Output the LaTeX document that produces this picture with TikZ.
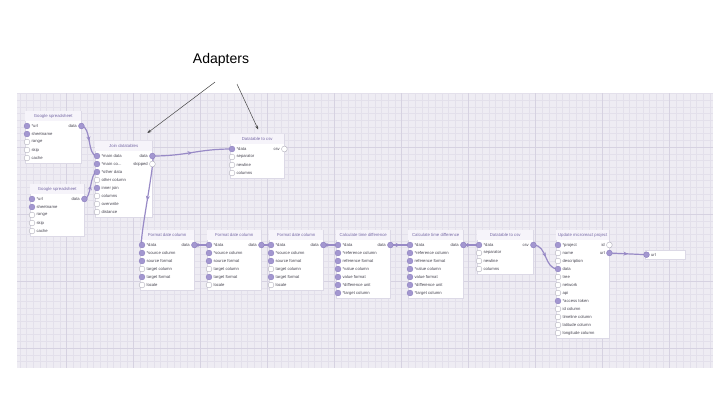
\documentclass[tikz,border=0pt]{standalone}
\usepackage{fontspec}
\setmainfont{Liberation Sans}
\usetikzlibrary{shadows}
\usetikzlibrary{positioning}
\usetikzlibrary{arrows.meta}
\usetikzlibrary{decorations.markings}
\usetikzlibrary{calc}

\definecolor{gridbg}{RGB}{238,236,243}
\definecolor{gridminor}{RGB}{227,224,235}
\definecolor{gridmajor}{RGB}{214,210,225}
\definecolor{boxline}{RGB}{220,217,230}
\definecolor{headfill}{RGB}{246,244,250}
\definecolor{titlecol}{RGB}{118,104,165}
\definecolor{labelcol}{RGB}{70,68,80}
\definecolor{wirecol}{RGB}{152,138,198}
\definecolor{portfill}{RGB}{163,151,208}
\definecolor{portedge}{RGB}{140,127,190}
\definecolor{holedge}{RGB}{175,173,185}
\definecolor{pointcol}{RGB}{70,70,70}

\pgfdeclarelayer{bg}
\pgfdeclarelayer{wires}
\pgfsetlayers{bg,wires,main}

\tikzset{
  flowbox/.style={draw=boxline, fill=white, line width=0.4pt, inner sep=0pt,
    drop shadow={opacity=0.12, shadow xshift=0.6pt, shadow yshift=-0.8pt}},
  boxtitle/.style={font=\fontsize{4.3}{5}\selectfont, text=titlecol, inner sep=0pt},
  porton/.style={circle, draw=portedge, fill=portfill, line width=0.4pt, minimum size=5.8pt, inner sep=0pt},
  portoff/.style={circle, draw=holedge, fill=white, line width=0.4pt, minimum size=5.8pt, inner sep=0pt},
  portlabel/.style={font=\fontsize{4.2}{5}\selectfont, text=labelcol, inner sep=1.3pt},
  wire/.style={draw=wirecol, line width=1.2pt, postaction={decorate},
    decoration={markings, mark=at position 0.5 with {\arrow{Stealth[length=4.5pt,width=4pt]}}}},
  pointer/.style={draw=pointcol, line width=0.5pt, -{Stealth[length=4pt,width=3pt]}},
}

% one block: name, left, top, width, height, title
\newcommand{\flowblock}[6]{%
  \begin{pgfonlayer}{bg}
    \node[flowbox, minimum width=#4, minimum height=#5, anchor=north west] (#1) at (#2,#3) {};
    \fill[headfill] ($(#1.north west)+(0.3,0.3)$) rectangle ($(#1.north east)+(-0.3,10)$);
  \end{pgfonlayer}
  \node[boxtitle] (#1-title) at ($(#1.north)+(0,5.2)$) {#6};
}
\newcommand{\inports}[2]{%
  \foreach \i/\txt/\st in {#2} {
    \pgfmathsetmacro\dy{15+8*(\i-1)}
    \node[\st] (#1-i\i) at ($(#1.north west)+(2,\dy)$) {};
    \node[portlabel, anchor=west] at (#1-i\i.east) {\txt};
  }%
}
\newcommand{\outports}[2]{%
  \foreach \i/\txt/\st in {#2} {
    \pgfmathsetmacro\dy{15+8*(\i-1)}
    \node[\st] (#1-o\i) at ($(#1.north east)+(0,\dy)$) {};
    \node[portlabel, anchor=east] at (#1-o\i.west) {\txt};
  }%
}
\newcommand{\cut}{.\kern0pt.\kern0pt.}

\begin{document}
\begin{tikzpicture}[x=1pt, y=-1pt]

\useasboundingbox (0,0) rectangle (720,405);

% canvas grid
\begin{pgfonlayer}{bg}
\fill[white] (0,0) rectangle (720,405);
\fill[gridbg] (17,93) rectangle (713,368);
\foreach \k in {0,...,103}
  \draw[gridminor, line width=0.4pt] ({19.7+6.7*\k},93) -- ({19.7+6.7*\k},368);
\foreach \k in {0,...,40}
  \draw[gridminor, line width=0.4pt] (17,{93.4+6.7*\k}) -- (713,{93.4+6.7*\k});
\foreach \k in {0,...,9}
  \draw[gridmajor, line width=0.6pt] ({66.6+67*\k},93) -- ({66.6+67*\k},368);
\foreach \k in {0,...,3}
  \draw[gridmajor, line width=0.6pt] (17,{147+67*\k}) -- (713,{147+67*\k});
\end{pgfonlayer}

% sources
\flowblock{gs1}{25}{111}{56}{52}{Google spreadsheet}
\inports{gs1}{1/*url/porton, 2/sheetname/porton, 3/range/portoff, 4/skip/portoff, 5/cache/portoff}
\outports{gs1}{1/data/porton}

\flowblock{gs2}{30}{184}{54}{52}{Google spreadsheet}
\inports{gs2}{1/*url/porton, 2/sheetname/porton, 3/range/portoff, 4/skip/portoff, 5/cache/portoff}
\outports{gs2}{1/data/porton}

\flowblock{join}{95}{141}{57}{76}{Join datatables}
\inports{join}{1/*main data/porton, 2/*main co\cut/porton, 3/*other data/porton, 4/other column/portoff,
  5/inner join/porton, 6/columns/portoff, 7/overwrite/portoff, 8/distance/portoff}
\outports{join}{1/data/porton, 2/skipped/portoff}

\flowblock{csvtop}{230}{134}{54}{44}{Datatable to csv}
\inports{csvtop}{1/*data/porton, 2/separator/portoff, 3/newline/portoff, 4/columns/portoff}
\outports{csvtop}{1/csv/portoff}

% lower chain
\flowblock{fdc1}{140}{230}{54}{60}{Format date column}
\inports{fdc1}{1/*data/porton, 2/*source column/porton, 3/source format/porton, 4/target column/portoff,
  5/target format/porton, 6/locale/portoff}
\outports{fdc1}{1/data/porton}

\flowblock{fdc2}{207}{230}{54}{60}{Format date column}
\inports{fdc2}{1/*data/porton, 2/*source column/porton, 3/source format/porton, 4/target column/portoff,
  5/target format/porton, 6/locale/portoff}
\outports{fdc2}{1/data/porton}

\flowblock{fdc3}{269}{230}{54}{60}{Format date column}
\inports{fdc3}{1/*data/porton, 2/*source column/porton, 3/source format/porton, 4/target column/portoff,
  5/target format/porton, 6/locale/portoff}
\outports{fdc3}{1/data/porton}

\flowblock{ctd1}{336}{230}{54}{68}{Calculate time difference}
\inports{ctd1}{1/*data/porton, 2/*reference column/porton, 3/reference format/porton, 4/*value column/porton,
  5/value format/porton, 6/*difference unit/porton, 7/*target column/porton}
\outports{ctd1}{1/data/porton}

\flowblock{ctd2}{408}{230}{55}{68}{Calculate time difference}
\inports{ctd2}{1/*data/porton, 2/*reference column/porton, 3/reference format/porton, 4/*value column/porton,
  5/value format/porton, 6/*difference unit/porton, 7/*target column/porton}
\outports{ctd2}{1/data/porton}

\flowblock{csvbot}{477}{230}{56}{44}{Datatable to csv}
\inports{csvbot}{1/*data/porton, 2/separator/portoff, 3/newline/portoff, 4/columns/portoff}
\outports{csvbot}{1/csv/porton}

\flowblock{mr}{556}{230}{53}{108}{Update microreact project}
\inports{mr}{1/*project/porton, 2/name/portoff, 3/description/portoff, 4/data/porton, 5/tree/portoff,
  6/network/portoff, 7/api/portoff, 8/*access token/porton, 9/id column/portoff, 10/timeline column/portoff,
  11/latitude column/portoff, 12/longitude column/portoff}
\outports{mr}{1/id/portoff, 2/url/porton}

% output
\begin{pgfonlayer}{bg}
\node[flowbox, minimum width=40, minimum height=9, anchor=north west] (urlbox) at (645,250) {};
\end{pgfonlayer}
\node[porton] (url-i1) at ($(urlbox.west)+(1.5,0)$) {};
\node[portlabel, anchor=west] at (url-i1.east) {url};

% connections
\begin{pgfonlayer}{wires}
\draw[wire] (gs1-o1.center) .. controls +(10,0) and +(-10,0) .. (join-i1.center);
\draw[wire] (gs2-o1.center) .. controls +(7,0) and +(-7,0) .. (join-i3.center);
\draw[wire] (join-o1.center) .. controls +(35,0) and +(-35,0) .. (csvtop-i1.center);
\draw[wire] (join-o1.center) .. controls +(4,0) and +(-4,0) .. (fdc1-i1.center);
\draw[wire] (fdc1-o1.center) -- (fdc2-i1.center);
\draw[wire] (fdc2-o1.center) -- (fdc3-i1.center);
\draw[wire] (fdc3-o1.center) -- (ctd1-i1.center);
\draw[wire] (ctd1-o1.center) -- (ctd2-i1.center);
\draw[wire] (ctd2-o1.center) -- (csvbot-i1.center);
\draw[wire] (csvbot-o1.center) .. controls +(14,0) and +(-14,0) .. (mr-i4.center);
\draw[wire] (mr-o2.center) -- (url-i1.center);
\end{pgfonlayer}

% annotation
\node[font=\fontsize{14}{16}\selectfont] (adapters) at (221,60) {Adapters};
\coordinate (adp-a) at ($(adapters.south)+(-6,12)$);
\coordinate (adp-b) at ($(adapters.south)+(16,14)$);
\draw[pointer] (adp-a) -- ($(join.north east)+(-5,-8)$);
\draw[pointer] (adp-b) -- ($(csvtop.north)+(1,-4.5)$);

\end{tikzpicture}
\end{document}
